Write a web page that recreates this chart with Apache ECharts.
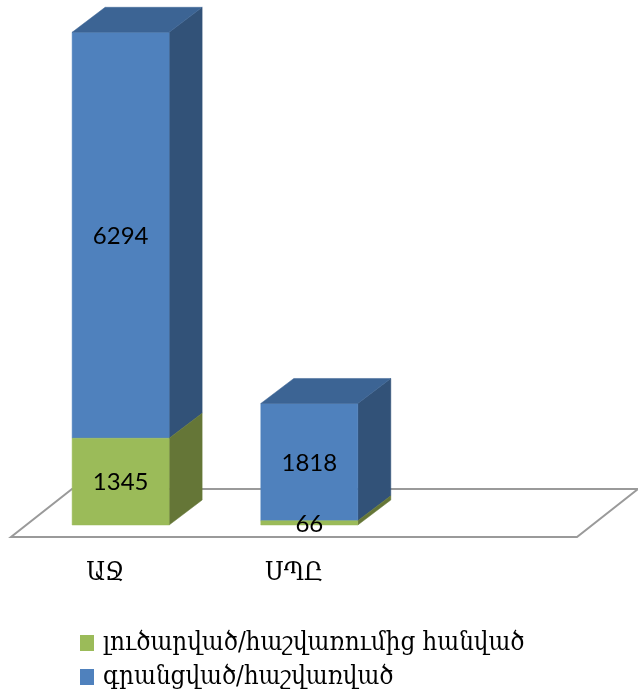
<!DOCTYPE html>
<html><head><meta charset="utf-8">
<style>html,body{margin:0;padding:0;background:#fff}#c{width:638px;height:696px}</style>
<script src="https://cdn.jsdelivr.net/npm/echarts@6/dist/echarts.min.js"></script>
</head><body><div id="c"></div>
<script>
const categories = ['ԱՋ', 'ՍՊԸ', ''];
const closedName = 'լուծարված/հաշվառումից հանված';
const registeredName = 'գրանցված/հաշվառված';
const closedValues = [1345, 66];
const registeredValues = [6294, 1818];

const NUM_FONT = 'Lato, "Open Sans", sans-serif';
const ARM_FONT = '"DejaVu Serif Condensed", "DejaVu Serif", serif';
const BAR_WIDTH = 97, DX = 33, DY = 25, OFF_X = 15.3, OFF_Y = 12;

function box(front, side, top, showTop) {
  return function (params, api) {
    const i = api.value(0);
    const a = api.coord([i, api.value(1)]);
    const b = api.coord([i, api.value(2)]);
    const x0 = a[0] + OFF_X - BAR_WIDTH / 2, x1 = x0 + BAR_WIDTH;
    const y0 = a[1] - OFF_Y, y1 = b[1] - OFF_Y;
    const poly = (pts, fill) => ({type: 'polygon', shape: {points: pts}, style: {fill: fill, stroke: fill, lineWidth: 0.5}});
    const kids = [
      poly([[x1, y0], [x1 + DX, y0 - DY], [x1 + DX, y1 - DY], [x1, y1]], side),
      poly([[x0, y0], [x1, y0], [x1, y1], [x0, y1]], front)
    ];
    if (showTop) kids.push(poly([[x0, y1], [x1, y1], [x1 + DX, y1 - DY], [x0 + DX, y1 - DY]], top));
    kids.push({type: 'text', z2: 10, style: {
      text: String(api.value(2) - api.value(1)), x: (x0 + x1) / 2, y: (y0 + y1) / 2 + 1,
      align: 'center', verticalAlign: 'middle', fill: '#000', font: '24px ' + NUM_FONT}});
    return {type: 'group', children: kids};
  };
}
function floor(params, api) {
  const cs = params.coordSys;
  const l = cs.x, r = cs.x + cs.width, y = cs.y + cs.height;
  return {type: 'polygon', shape: {points: [[l, y], [r, y], [r + 61, y - 48], [l + 61, y - 48]]},
    style: {fill: '#fff', stroke: '#9a9a9a', lineWidth: 2}};
}
const closedData = closedValues.map((v, i) => [i, 0, v]);
const registeredData = registeredValues.map((v, i) => [i, closedValues[i], closedValues[i] + v]);

const chart = echarts.init(document.getElementById('c'), null, {renderer: 'canvas'});
chart.setOption({
  animation: false,
  backgroundColor: '#fff',
  grid: {left: 11, width: 566, top: 21, height: 516},
  xAxis: {type: 'category', data: categories, axisLine: {show: false}, axisTick: {show: false},
    axisLabel: {interval: 0, margin: 23, color: '#000', fontSize: 26, fontFamily: ARM_FONT}},
  yAxis: {type: 'value', min: 0, max: 8000, show: false, splitLine: {show: false}},
  legend: {orient: 'vertical', left: 75, top: 625, height: 71, padding: [5, 5, 0, 5], itemWidth: 14, itemHeight: 16, itemGap: 8, icon: 'rect',
    data: [closedName, registeredName],
    textStyle: {color: '#000', fontSize: 25.7, fontFamily: ARM_FONT, padding: [0, 0, 0, 4]}},
  series: [
    {type: 'custom', silent: true, z: 1, data: [[0]], renderItem: floor, encode: {x: 0}},
    {type: 'custom', name: registeredName, z: 2, itemStyle: {color: '#4F81BD'}, data: registeredData,
      renderItem: box('#4F81BD', '#325278', '#3C6494', true), encode: {x: 0, y: [1, 2]}},
    {type: 'custom', name: closedName, z: 3, itemStyle: {color: '#9BBB59'}, data: closedData,
      renderItem: box('#9BBB59', '#657637', '#7E9A45', false), encode: {x: 0, y: [1, 2]}}
  ]
});
</script></body></html>
